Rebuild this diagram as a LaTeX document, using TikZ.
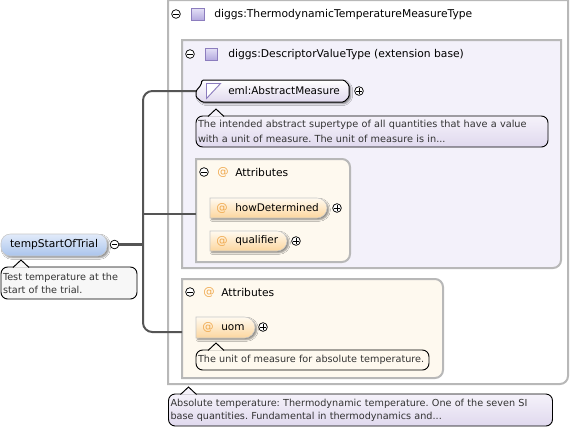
\documentclass[tikz,border=0pt]{standalone}
\usepackage{fontspec}
\setmainfont{DejaVu Sans}
\usepackage{xcolor}
\usetikzlibrary{calc,shapes.misc,shadows.blur}
\definecolor{groupline}{RGB}{184,184,184}
\definecolor{typefill}{RGB}{243,241,250}
\definecolor{attrfill}{RGB}{254,249,239}
\definecolor{wireline}{RGB}{85,85,85}
\definecolor{attrorange}{RGB}{240,170,80}
\definecolor{iconline}{RGB}{140,125,190}
\definecolor{icontop}{RGB}{228,224,246}
\definecolor{iconbottom}{RGB}{176,166,222}
\definecolor{tiptop}{RGB}{245,242,250}
\definecolor{tipbottom}{RGB}{224,217,238}
\definecolor{roottop}{RGB}{226,235,250}
\definecolor{rootbottom}{RGB}{170,196,236}
\definecolor{attrtop}{RGB}{255,250,240}
\definecolor{attrbottom}{RGB}{252,214,158}
\newcommand{\pxsize}[2]{\fontsize{#1}{#2}\selectfont}
\frenchspacing
\tikzset{
  boxsize/.style 2 args={minimum width=#1*.75pt,minimum height=#2*.75pt,inner sep=0pt,outer sep=0pt},
  grouparea/.style={line width=1.5pt,draw=groupline},
  wire/.style={line width=1.5pt,draw=wireline},
  wirethick/.style={line width=2.25pt,draw=wireline},
  softshadow/.style={blur shadow={shadow xshift=1.3pt,shadow yshift=-1.3pt,shadow blur radius=1.2pt,shadow opacity=45}},
  rootnode/.style={rounded corners=7pt,draw=black!22,top color=roottop,bottom color=rootbottom,softshadow,font=\pxsize{8}{9}},
  elemshape/.style={draw=black,line width=.75pt,rounded corners=1pt,top color=white,bottom color=tipbottom,softshadow},
  attrnode/.style={rounded rectangle,rounded rectangle west arc=none,draw=black!22,top color=attrtop,bottom color=attrbottom,softshadow},
  tiptext/.style={draw=black,line width=.7pt,rounded corners=5pt,anchor=north west,align=left,inner sep=1.5pt,outer sep=0pt,text=black!80,font=\pxsize{7.25}{9.8}},
  lilactip/.style={tiptext,top color=tiptop,bottom color=tipbottom},
  greytip/.style={tiptext,fill=black!3},
  expander/.style={circle,draw=black,line width=.55pt,fill=white,inner sep=0pt,minimum size=6.5pt},
  minusmark/.style={expander,path picture={\draw[line width=.5pt] ($(path picture bounding box.center)+(-2.6,0)$)--($(path picture bounding box.center)+(2.6,0)$);}},
  plusmark/.style={expander,path picture={\draw[line width=.5pt] ($(path picture bounding box.center)+(-2.6,0)$)--($(path picture bounding box.center)+(2.6,0)$);\draw[line width=.5pt] ($(path picture bounding box.center)+(0,-2.6)$)--($(path picture bounding box.center)+(0,2.6)$);}},
  typeicon/.style={rectangle,draw=iconline,line width=.7pt,top color=icontop,bottom color=iconbottom,minimum size=9.5pt,inner sep=0pt},
  atmark/.style={text=attrorange,font=\pxsize{8.5}{9}},
  headtext/.style={anchor=west,inner sep=0pt,font=\pxsize{8.05}{9}},
  nametext/.style={anchor=west,inner sep=0pt,font=\pxsize{7.85}{9}},
  fadeline/.style={left color=#1,middle color=black!22,right color=#1,draw=none}
}
\begin{document}
\begin{tikzpicture}[x=.75pt,y=-.75pt]
  \useasboundingbox (0,0) rectangle (571,430);
  \fill[white] (0,0) rectangle (571,430);

  % nested group areas
  \coordinate (outerNW) at (168,0);
  \coordinate (outerSE) at (568,384);
  \coordinate (baseNW) at (182,40);
  \coordinate (baseSE) at (561,268);
  \coordinate (attrANW) at (196,159);
  \coordinate (attrASE) at (350,262);
  \coordinate (attrBNW) at (182,279);
  \coordinate (attrBSE) at (443,378);

  \draw[grouparea,fill=white] (outerNW) -- (outerNW -| outerSE) [rounded corners=6pt] -- (outerSE) [sharp corners] -- (outerSE -| outerNW) -- cycle;
  \draw[grouparea,fill=typefill] (baseNW) -- (baseNW -| baseSE) [rounded corners=6pt] -- (baseSE) [sharp corners] -- (baseSE -| baseNW) -- cycle;
  \foreach \p in {attrA,attrB}{
    \draw[grouparea,fill=attrfill] (\p NW) [rounded corners=6pt] -- (\p NW -| \p SE) -- (\p SE) [sharp corners] -- (\p SE -| \p NW) -- cycle;
  }

  % header rows
  \node[minusmark] (outerMinus) at (176,14) {};
  \node[typeicon] (outerIcon) at (198,14.5) {};
  \node[headtext] (outerHead) at (214,14.5) {diggs:ThermodynamicTemperatureMeasureType};
  \fill[fadeline=white] (170,28) rectangle (470,30);

  \node[minusmark] (baseMinus) at (190,54) {};
  \node[typeicon] (baseIcon) at (211.5,54.5) {};
  \node[headtext] (baseHead) at (228,54.5) {diggs:DescriptorValueType (extension base)};
  \fill[fadeline=typefill] (184,67) rectangle (468,69);

  \node[minusmark] (attrAMinus) at (204,172) {};
  \node[atmark] (attrAIcon) at (223,172) {@};
  \node[headtext] (attrAHead) at (235,172) {Attributes};
  \fill[fadeline=attrfill] (200,185) rectangle (310,187);

  \node[minusmark] (attrBMinus) at (190,292) {};
  \node[atmark] (attrBIcon) at (209,292) {@};
  \node[headtext] (attrBHead) at (221,292) {Attributes};
  \fill[fadeline=attrfill] (186,305) rectangle (380,307);

  % wires
  \node[rootnode,boxsize={106}{22},anchor=north west] (tempStartOfTrial) at (1,234) {tempStartOfTrial};
  \node[minusmark] (rootMinus) at (114.5,244.5) {};
  \coordinate (trunk) at (143,244.5);
  \coordinate (attrAWest) at (196,214);
  \coordinate (attrBWest) at (182,332);
  \node[boxsize={154}{22},anchor=north west] (abstractMeasure) at (196,80) {};

  \draw[wirethick] (rootMinus) -- (trunk);
  \draw[wire,rounded corners=7pt] (abstractMeasure.west) -| (trunk) |- (attrBWest);
  \draw[wire] (trunk |- attrAWest) -- (attrAWest);

  % elements
  \draw[elemshape] (abstractMeasure.west) -- ($(abstractMeasure.west)+(5,-6)$) -- ($(abstractMeasure.north west)+(6,0)$)
    -- ($(abstractMeasure.north east)+(-6,0)$) -- ($(abstractMeasure.east)+(-1,-6)$) -- ($(abstractMeasure.east)+(-1,6)$)
    -- ($(abstractMeasure.south east)+(-6,0)$) -- ($(abstractMeasure.south west)+(6,0)$) -- ($(abstractMeasure.west)+(0,6)$) -- cycle;
  \node[nametext] (abstractText) at (228,91) {eml:AbstractMeasure};
  \node[plusmark] (abstractPlus) at (359,91) {};
  \node[rectangle,boxsize={12}{15},anchor=north west] (abstractIcon) at (206.5,83.5) {};
  \draw[iconline,line width=.7pt,fill=white] (abstractIcon.south west) -- (abstractIcon.north west) -- ($(abstractIcon.north east)+(2,0)$) -- cycle;

  \node[attrnode,boxsize={117}{20},anchor=north west] (howDetermined) at (210,198) {};
  \node[atmark] (howIcon) at (222,208) {@};
  \node[nametext] (howText) at (235,208) {howDetermined};
  \node[plusmark] (howPlus) at (337,208) {};

  \node[attrnode,boxsize={77}{20},anchor=north west] (qualifier) at (210,231) {};
  \node[atmark] (qualIcon) at (222,241) {@};
  \node[nametext] (qualText) at (235,241) {qualifier};
  \node[plusmark] (qualPlus) at (296,241) {};

  \node[attrnode,boxsize={59}{21},anchor=north west] (uom) at (196,317) {};
  \node[atmark] (uomIcon) at (208,327.5) {@};
  \node[nametext] (uomText) at (221,327.5) {uom};
  \node[plusmark] (uomPlus) at (263,327) {};

  % annotation boxes
  \node[greytip,boxsize={136}{32},anchor=north west,inner sep=1.5pt,text width=132*.75pt] (tempTip) at (1,267)
    {Test temperature at the\\start of the trial.};
  \node[lilactip,boxsize={352}{31},anchor=north west,inner sep=1.5pt,text width=348*.75pt,font=\pxsize{7.3}{11}] (abstractTip) at (196,116)
    {The intended abstract supertype of all quantities that have a value\\with a unit of measure. The unit of measure is in...};
  \node[tiptext,fill=attrfill,boxsize={233}{20},anchor=north west,inner sep=1.5pt,text width=229*.75pt] (uomTip) at (196,350)
    {The unit of measure for absolute temperature.};
  \node[lilactip,boxsize={384}{32},anchor=north west,inner sep=1.5pt,text width=380*.75pt] (typeTip) at (168.5,394)
    {Absolute temperature: Thermodynamic temperature. One of the seven SI\\base quantities. Fundamental in thermodynamics and...};

  \foreach \t/\c in {tempTip/black!3,abstractTip/tiptop,uomTip/attrfill,typeTip/tiptop}{
    \draw[line width=.7pt,fill=\c] ($(\t.north west)+(12,.5)$) -- ($(\t.north west)+(20,-7)$) -- ($(\t.north west)+(28,.5)$);
  }
\end{tikzpicture}
\end{document}
